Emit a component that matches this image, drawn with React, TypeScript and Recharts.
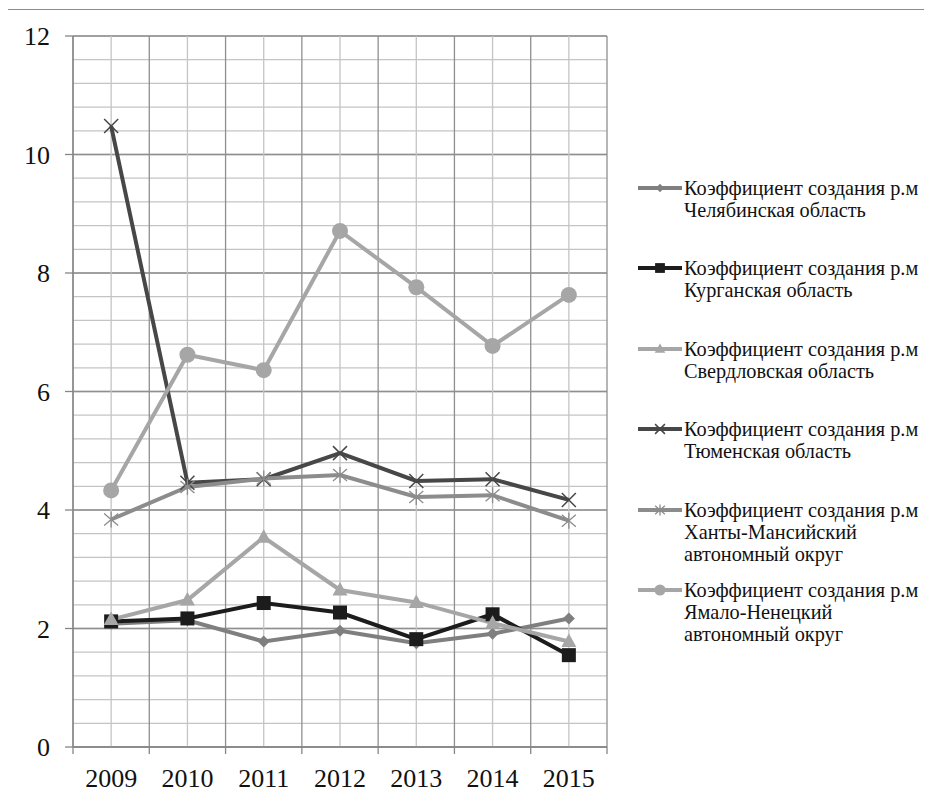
import { LineChart, Line, XAxis, YAxis, CartesianGrid, ReferenceLine } from 'recharts';

const years = [2009, 2010, 2011, 2012, 2013, 2014, 2015];
const chelyabinsk = [2.08, 2.14, 1.78, 1.96, 1.75, 1.91, 2.17];
const kurgan = [2.12, 2.17, 2.43, 2.27, 1.82, 2.24, 1.55];
const sverdlovsk = [2.15, 2.48, 3.54, 2.65, 2.44, 2.09, 1.78];
const tyumen = [10.48, 4.46, 4.52, 4.96, 4.49, 4.52, 4.17];
const khmao = [3.84, 4.39, 4.53, 4.59, 4.22, 4.25, 3.82];
const yanao = [4.33, 6.62, 6.36, 8.71, 7.76, 6.77, 7.63];

const yTicks = [0, 2, 4, 6, 8, 10, 12];
const yMinorTicks = Array.from({ length: 31 }, (_, i) => Math.round(i * 4) / 10);
const xBounds = [...years.map((y) => y - 0.5), years[years.length - 1] + 0.5];
const xAllTicks = [...xBounds, ...years].sort((a, b) => a - b);

const prefix = 'Коэффициент создания р.м';

const series = [
  { key: 'chel', values: chelyabinsk, color: '#7f7f7f', marker: 'diamond', label: ['Челябинская область'] },
  { key: 'kurg', values: kurgan, color: '#1c1c1c', marker: 'square', label: ['Курганская область'] },
  { key: 'sverd', values: sverdlovsk, color: '#a6a6a6', marker: 'triangle', label: ['Свердловская область'] },
  { key: 'tyum', values: tyumen, color: '#474747', marker: 'x', label: ['Тюменская область'] },
  { key: 'khmao', values: khmao, color: '#8c8c8c', marker: 'star', label: ['Ханты-Мансийский', 'автономный округ'] },
  { key: 'yanao', values: yanao, color: '#a6a6a6', marker: 'circle', label: ['Ямало-Ненецкий', 'автономный округ'] },
];

const data = years.map((year, i) => {
  const row: any = { year };
  series.forEach((s) => (row[s.key] = s.values[i]));
  return row;
});

const FONT = '"Liberation Serif", "Times New Roman", serif';

function Marker({ type, cx, cy, color, s = 1 }: any) {
  if (cx == null || cy == null) return null;
  switch (type) {
    case 'diamond':
      return <polygon points={`${cx},${cy - 6 * s} ${cx + 6 * s},${cy} ${cx},${cy + 6 * s} ${cx - 6 * s},${cy}`} fill={color} />;
    case 'square':
      return <rect x={cx - 7 * s} y={cy - 7 * s} width={14 * s} height={14 * s} fill={color} />;
    case 'triangle':
      return <polygon points={`${cx},${cy - 8 * s} ${cx + 7.5 * s},${cy + 5.5 * s} ${cx - 7.5 * s},${cy + 5.5 * s}`} fill={color} />;
    case 'x':
      return (
        <g stroke={color} strokeWidth={1.5}>
          <line x1={cx - 7 * s} y1={cy - 7 * s} x2={cx + 7 * s} y2={cy + 7 * s} />
          <line x1={cx - 7 * s} y1={cy + 7 * s} x2={cx + 7 * s} y2={cy - 7 * s} />
        </g>
      );
    case 'star':
      return (
        <g stroke={color} strokeWidth={1.3}>
          <line x1={cx - 7 * s} y1={cy - 6 * s} x2={cx + 7 * s} y2={cy + 6 * s} />
          <line x1={cx - 7 * s} y1={cy + 6 * s} x2={cx + 7 * s} y2={cy - 6 * s} />
          <line x1={cx} y1={cy - 8 * s} x2={cx} y2={cy + 8 * s} />
        </g>
      );
    default:
      return <circle cx={cx} cy={cy} r={8 * s} fill={color} />;
  }
}

const XTick = ({ x, y, payload }: any) => {
  const v = payload.value;
  if (Number.isInteger(v)) {
    return (
      <text x={x} y={y + 33} textAnchor="middle" fontFamily={FONT} fontSize={26} fill="#111">
        {v}
      </text>
    );
  }
  return <line x1={x} y1={y - 7} x2={x} y2={y} stroke="#868686" strokeWidth={1.3} />;
};

export default function App() {
  return (
    <div style={{ position: 'relative', width: 932, height: 800, margin: -8, overflow: 'hidden', background: '#fff' }}>
      <div style={{ position: 'absolute', left: 5, top: 9, width: 1000, height: 1000, border: '1.3px solid #8c8c8c' }} />
      <LineChart width={932} height={800} data={data} margin={{ top: 36, right: 325, bottom: 0, left: 0 }}>
        <YAxis yAxisId="minorY" type="number" domain={[0, 12]} ticks={yMinorTicks} hide width={0} allowDataOverflow />
        <CartesianGrid xAxisId="x" yAxisId="minorY" vertical={false} stroke="#c4c4c4" strokeWidth={1.3} />
        {years.map((v) => (
          <ReferenceLine key={`mx${v}`} xAxisId="x" yAxisId="y" x={v} stroke="#c4c4c4" strokeWidth={1.3} />
        ))}
        <CartesianGrid xAxisId="x" yAxisId="y" vertical={false} stroke="#8f8f8f" strokeWidth={1.3} />
        {xBounds.map((v) => (
          <ReferenceLine key={`bx${v}`} xAxisId="x" yAxisId="y" x={v} stroke="#8f8f8f" strokeWidth={1.3} />
        ))}
        <XAxis
          xAxisId="x"
          dataKey="year"
          type="number"
          domain={[2008.5, 2015.5]}
          ticks={xAllTicks}
          interval={0}
          height={53}
          tickSize={7}
          tickMargin={0}
          tickLine={false}
          axisLine={{ stroke: '#868686', strokeWidth: 1.3 }}
          tick={<XTick />}
          allowDataOverflow
        />
        <YAxis
          yAxisId="y"
          type="number"
          domain={[0, 12]}
          ticks={yTicks}
          width={73}
          tickSize={8}
          tickMargin={15}
          axisLine={{ stroke: '#868686', strokeWidth: 1.3 }}
          tickLine={{ stroke: '#868686', strokeWidth: 1.3 }}
          tick={{ fontFamily: FONT, fontSize: 26, fill: '#111' }}
        />
        {series.map((s) => (
          <Line
            key={s.key}
            xAxisId="x"
            yAxisId="y"
            dataKey={s.key}
            stroke={s.color}
            strokeWidth={4}
            type="linear"
            isAnimationActive={false}
            dot={(p: any) => <Marker key={`${s.key}-${p.index}`} type={s.marker} cx={p.cx} cy={p.cy} color={s.color} />}
          />
        ))}
      </LineChart>
      <div style={{ position: 'absolute', left: 638, top: 0, fontFamily: FONT, fontSize: 20.3, color: '#111' }}>
        {series.map((s, i) => (
          <div key={s.key} style={{ position: 'absolute', top: 177 + i * 80.4, left: 0, width: 300 }}>
            <svg width={45} height={20} style={{ position: 'absolute', left: 0, top: 1 }}>
              <line x1={0} y1={10} x2={44} y2={10} stroke={s.color} strokeWidth={4} />
              <Marker type={s.marker} cx={22} cy={10} color={s.color} s={0.7} />
            </svg>
            <div style={{ position: 'absolute', left: 46, top: 0, lineHeight: '22px', whiteSpace: 'nowrap' }}>
              {[prefix, ...s.label].map((t) => (
                <div key={t}>{t}</div>
              ))}
            </div>
          </div>
        ))}
      </div>
    </div>
  );
}
